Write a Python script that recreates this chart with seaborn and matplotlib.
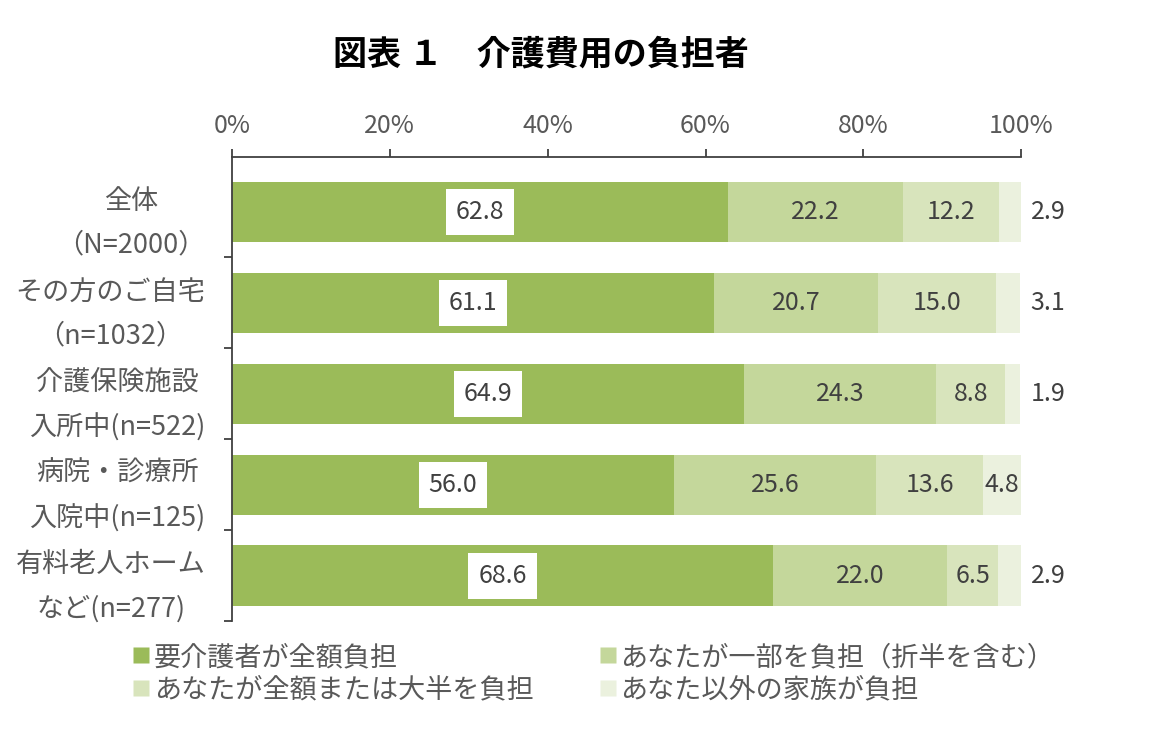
import matplotlib
matplotlib.use("Agg")
import matplotlib.pyplot as plt
from matplotlib.lines import Line2D
import seaborn as sns
import numpy as np
import pandas as pd

categories = ["全体\n（N=2000）", "その方のご自宅\n（n=1032）", "介護保険施設\n入所中(n=522)",
              "病院・診療所\n入院中(n=125)", "有料老人ホーム\nなど(n=277)"]
series_names = ["要介護者が全額負担", "あなたが一部を負担（折半を含む）",
                "あなたが全額または大半を負担", "あなた以外の家族が負担"]
s1 = [62.8, 61.1, 64.9, 56.0, 68.6]
s2 = [22.2, 20.7, 24.3, 25.6, 22.0]
s3 = [12.2, 15.0, 8.8, 13.6, 6.5]
s4 = [2.9, 3.1, 1.9, 4.8, 2.9]
tick_values = [0, 20, 40, 60, 80, 100]
tick_labels = ["0%", "20%", "40%", "60%", "80%", "100%"]

colors = ["#9BBB59", "#C4D79B", "#D8E4BC", "#EBF1DE"]

sns.set_theme(style="white")
plt.rcParams['font.family'] = ['Noto Sans CJK JP', 'DejaVu Sans']

fig = plt.figure(figsize=(11.53, 7.43), dpi=100)
ax = fig.add_axes([0.2012, 0.1642, 0.6845, 0.6245])

series = [s1, s2, s3, s4]
cums = np.cumsum(np.array(series), axis=0)

for i in range(3, -1, -1):
    sns.barplot(x=cums[i], y=categories, color=colors[i], orient="h",
                width=0.66, ax=ax, saturation=1, edgecolor="none", linewidth=0)

txt_color = "#404040"
vfs = 18
for j in range(len(categories)):
    left = 0
    for i, vals in enumerate(series):
        v = vals[j]
        if i == 0:
            ax.text(left + v / 2, j, f"{v:.1f}", ha="center", va="center", fontsize=vfs,
                    color=txt_color,
                    bbox=dict(facecolor="white", edgecolor="none", boxstyle="square,pad=0.4"))
        elif i == 3 and v < 4:
            ax.text(101.2, j, f"{v:.1f}", ha="left", va="center", fontsize=vfs, color=txt_color,
                    clip_on=False)
        else:
            ax.text(left + v / 2, j, f"{v:.1f}", ha="center", va="center", fontsize=vfs,
                    color=txt_color)
        left += v

ax.set_xlim(0, 100)
ax.set_ylim(4.5, -0.6)
ax.xaxis.tick_top()
ax.set_xticks(tick_values)
ax.set_xticklabels(tick_labels)
ax.tick_params(axis="x", top=True, bottom=False, length=6, width=1.3, color="#404040",
               labelsize=18, labelcolor="#595959", pad=7, direction="out")
ax.set_yticks(range(len(categories)))
ax.set_yticklabels(categories, multialignment="center", linespacing=1.8)
ax.tick_params(axis="y", left=False, length=0, labelsize=19.5, labelcolor="#595959", pad=19)
ax.set_yticks([0.5, 1.5, 2.5, 3.5, 4.5], minor=True)
ax.tick_params(axis="y", which="minor", left=True, length=6, width=1.3, color="#404040",
               direction="out")
ax.set_xlabel("")
ax.set_ylabel("")
for side in ["right", "bottom"]:
    ax.spines[side].set_visible(False)
for side in ["top", "left"]:
    ax.spines[side].set_visible(True)
    ax.spines[side].set_color("#404040")
    ax.spines[side].set_linewidth(1.3)
ax.grid(False)

fig.text(0.469, 0.927, "図表 １　介護費用の負担者", ha="center", va="center",
         fontsize=24.5, fontweight="bold", color="black")

order = [0, 2, 1, 3]
handles = [Line2D([], [], marker="s", linestyle="none", markersize=11,
                  markerfacecolor=colors[k], markeredgecolor="none") for k in order]
labels = [series_names[k] for k in order]
fig.legend(handles, labels, ncol=2, loc="upper left", bbox_to_anchor=(0.105, 0.148),
           frameon=False, fontsize=19.5, labelcolor="#595959", handletextpad=0.1,
           columnspacing=2.4, labelspacing=0.2, handlelength=0.7, borderaxespad=0)

fig.savefig("out.png", dpi=100, facecolor="white")
